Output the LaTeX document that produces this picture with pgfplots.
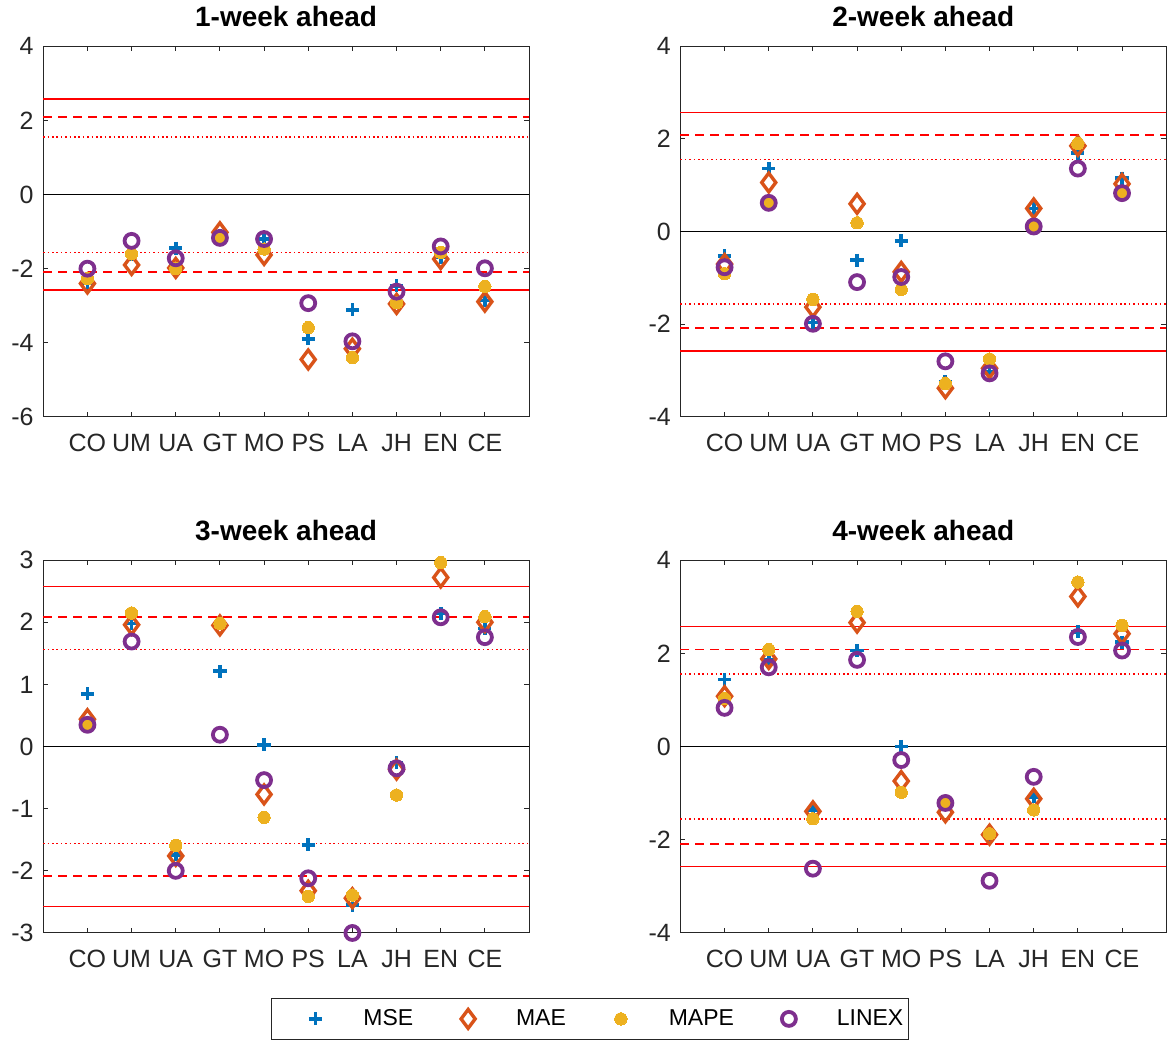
\documentclass[border=0pt]{standalone}
\usepackage{fontspec}
\setmainfont{Liberation Sans}
\usepackage{pgfplots}
\usepackage{pgfplotstable}
\pgfplotsset{compat=1.18}
\definecolor{mse}{rgb}{0,0.447,0.741}
\definecolor{mae}{rgb}{0.850,0.325,0.098}
\definecolor{mape}{rgb}{0.929,0.694,0.125}
\definecolor{linex}{rgb}{0.494,0.184,0.556}
\definecolor{axgray}{rgb}{0.15,0.15,0.15}
\definecolor{refred}{rgb}{1,0,0}

\pgfplotstableread{
x mse mae mape linex
1 -2.38 -2.40 -2.27 -2.00
2 -1.62 -1.90 -1.60 -1.25
3 -1.45 -1.98 -2.00 -1.72
4 -1.10 -1.02 -1.17 -1.17
5 -1.20 -1.63 -1.47 -1.20
6 -3.89 -4.45 -3.59 -2.93
7 -3.11 -4.16 -4.40 -3.96
8 -2.46 -2.95 -2.92 -2.62
9 -1.70 -1.74 -1.56 -1.40
10 -2.86 -2.89 -2.48 -1.99
}\tabA

\pgfplotstableread{
x mse mae mape linex
1 -0.52 -0.70 -0.91 -0.77
2 1.36 1.06 0.63 0.62
3 -1.96 -1.63 -1.46 -1.99
4 -0.62 0.60 0.19 -1.09
5 -0.20 -0.87 -1.25 -0.98
6 -3.24 -3.38 -3.28 -2.80
7 -3.03 -2.95 -2.75 -3.06
8 0.50 0.50 0.11 0.11
9 1.69 1.85 1.90 1.36
10 1.15 1.03 0.83 0.83
}\tabB

\pgfplotstableread{
x mse mae mape linex
1 0.85 0.44 0.32 0.35
2 1.98 1.96 2.15 1.69
3 -1.74 -1.76 -1.59 -2.00
4 1.21 1.95 1.98 0.19
5 0.03 -0.77 -1.14 -0.54
6 -1.58 -2.32 -2.41 -2.12
7 -2.55 -2.44 -2.39 -3.00
8 -0.26 -0.37 -0.78 -0.35
9 2.14 2.72 2.96 2.08
10 1.90 2.00 2.09 1.76
}\tabC

\pgfplotstableread{
x mse mae mape linex
1 1.44 1.08 1.03 0.83
2 1.85 1.88 2.08 1.70
3 -1.36 -1.39 -1.55 -2.62
4 2.06 2.66 2.90 1.86
5 0.00 -0.74 -0.98 -0.29
6 -1.24 -1.41 -1.21 -1.21
7 -1.89 -1.89 -1.87 -2.88
8 -1.08 -1.12 -1.36 -0.65
9 2.46 3.22 3.53 2.35
10 2.24 2.42 2.60 2.06
}\tabD

\pgfplotsset{
  panel/.style={
    scale only axis, width=243.1pt,
    xmin=0, xmax=11, xtick={1,...,10},
    xticklabels={CO,UM,UA,GT,MO,PS,LA,JH,EN,CE},
    tick align=inside, major tick length=2.5pt,
    axis line style={draw=axgray, line width=0.5pt},
    every tick/.style={draw=axgray, line width=0.5pt},
    ticklabel style={font=\fontsize{12.5}{14}\selectfont, text=axgray},
    xticklabel style={yshift=-5.2pt},
    yticklabel style={xshift=-1.3pt},
    title style={font=\fontsize{14}{16}\selectfont\bfseries},
    clip=false,
    legend image code/.code={\path[draw=none] (0pt,0pt) -- (43.6pt,0pt); \draw[#1, only marks] plot coordinates {(19.6pt,0pt)};},
  },
  pmse/.style={only marks, mark=+, color=mse, mark size=3.3pt, mark options={line width=1.9pt}},
  pmae/.style={only marks, mark=diamond, color=mae, mark size=4.7pt, mark options={line width=1.7pt, fill=none}},
  pmape/.style={only marks, mark=*, color=mape, mark size=3.1pt, mark options={draw=mape, fill=mape, line width=0pt}},
  plinex/.style={only marks, mark=o, color=linex, mark size=3.5pt, mark options={line width=1.9pt}},
  refsolid/.style={forget plot, draw=refred, line width=0.7pt},
  refdash/.style={forget plot, draw=refred, line width=0.8pt, dash pattern=on 4.5pt off 3pt},
  refdot/.style={forget plot, draw=refred, line width=0.8pt, dash pattern=on 0.8pt off 1.4pt},
}

\newcommand{\reflines}{%
  \addplot[refsolid] coordinates {(0,2.575) (11,2.575)};
  \addplot[refdash] coordinates {(0,2.085) (11,2.085)};
  \addplot[refdot] coordinates {(0,1.56) (11,1.56)};
  \addplot[refsolid] coordinates {(0,-2.575) (11,-2.575)};
  \addplot[refdash] coordinates {(0,-2.085) (11,-2.085)};
  \addplot[refdot] coordinates {(0,-1.56) (11,-1.56)};
  \addplot[forget plot, draw=black, line width=0.6pt] coordinates {(0,0) (11,0)};
}

\newcommand{\series}[1]{%
  \addplot[pmse] table[x=x, y=mse] {#1};
  \addplot[pmae] table[x=x, y=mae] {#1};
  \addplot[pmape] table[x=x, y=mape] {#1};
  \addplot[plinex] table[x=x, y=linex] {#1};
}

\begin{document}
\begin{tikzpicture}
\path (0pt,0pt) rectangle (583.5pt,-517pt);

\begin{axis}[panel, at={(21.65pt,-20pt)}, anchor=north west, height=185.5pt,
  ymin=-6, ymax=4, ytick={-6,-4,-2,0,2,4}, yticklabels={-6,-4,-2,0,2,4},
  title={1-week ahead}]
\series{\tabA}
\reflines
\end{axis}

\begin{axis}[panel, at={(340.5pt,-20pt)}, anchor=north west, height=185.5pt,
  ymin=-4, ymax=4, ytick={-4,-2,0,2,4}, yticklabels={-4,-2,0,2,4},
  title={2-week ahead}]
\series{\tabB}
\reflines
\end{axis}

\begin{axis}[panel, at={(21.65pt,-277.15pt)}, anchor=north west, height=186.6pt,
  ymin=-3, ymax=3, ytick={-3,-2,-1,0,1,2,3}, yticklabels={-3,-2,-1,0,1,2,3},
  title={3-week ahead},
  legend columns=4,
  legend style={at={(1.125,-0.2304)}, anchor=center, draw=axgray, line width=0.5pt,
    inner xsep=2.5pt, inner ysep=2.5pt, font=\fontsize{11.5}{13}\selectfont,
    nodes={inner xsep=0pt, inner ysep=3pt},
    /tikz/every even column/.append style={column sep=7.9pt}}]
\series{\tabC}
\reflines
\legend{MSE,MAE,MAPE,LINEX}
\end{axis}

\begin{axis}[panel, at={(340.5pt,-277.15pt)}, anchor=north west, height=186.6pt,
  ymin=-4, ymax=4, ytick={-4,-2,0,2,4}, yticklabels={-4,-2,0,2,4},
  title={4-week ahead}]
\series{\tabD}
\reflines
\end{axis}
\end{tikzpicture}
\end{document}
